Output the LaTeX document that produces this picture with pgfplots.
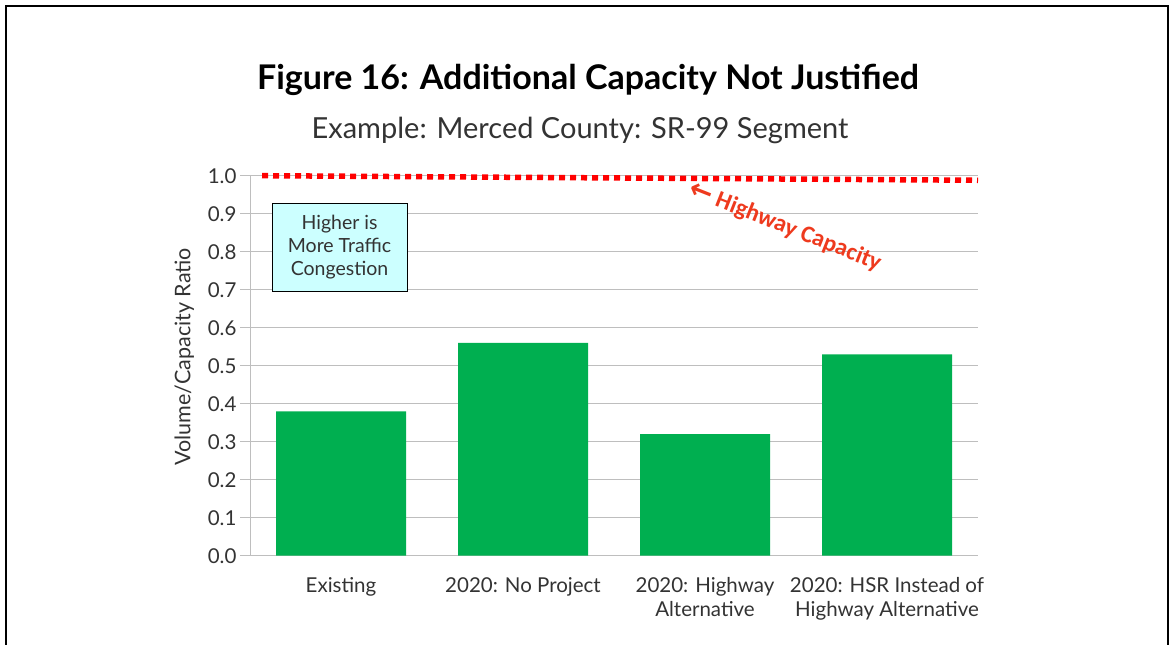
\documentclass[border=0pt]{standalone}
\usepackage{pgfplots}
\pgfplotsset{compat=1.18}
\usepackage{fontspec}
\setmainfont{Lato}
\newfontfamily\calib{Carlito}
\newfontfamily\dejavu{DejaVu Sans}
\definecolor{bargreen}{HTML}{00AF50}
\definecolor{boxcyan}{HTML}{CCFFFF}
\definecolor{capred}{HTML}{EE3A1E}
\definecolor{gridgray}{HTML}{BEBEBE}
\definecolor{txtgray}{HTML}{333333}
\begin{document}
\begin{tikzpicture}[x=1pt,y=1pt]
\path[use as bounding box] (0,0) rectangle (1170,645);
\draw[line width=2.2pt,black] (6,-2) -- (6,639) -- (1168,639) -- (1168,-2);
\node[font=\fontsize{34}{40}\selectfont\bfseries] at (588,565) {Figure 16: Additional Capacity Not Justified};
\node[font=\fontsize{29}{34}\selectfont, text=txtgray] at (580,515) {Example: Merced County: SR-99 Segment};
\begin{axis}[
  at={(250pt,89.3pt)}, anchor=south west,
  scale only axis, width=728pt, height=380pt,
  xmin=-0.5, xmax=3.5, ymin=0, ymax=1,
  axis x line*=bottom, axis y line*=left,
  axis line style={gridgray, line width=1pt},
  every outer x axis line/.append style={-},
  every outer y axis line/.append style={-},
  xtick={0,1,2,3},
  xticklabels={Existing, 2020: No Project, {2020: Highway\\Alternative}, {2020: HSR Instead of\\Highway Alternative}},
  xticklabel style={align=center, font=\fontsize{20.5}{24}\selectfont, text=txtgray},
  x tick label style={yshift=-8pt},
  major x tick style={draw=none},
  extra x ticks={-0.5,0.5,1.5,2.5,3.5},
  extra x tick labels={},
  extra x tick style={tick style={draw=gridgray, line width=1pt}, major tick length=12pt, tickwidth=12pt},
  ytick={0,0.1,...,1.0},
  yticklabel style={/pgf/number format/fixed, /pgf/number format/precision=1, /pgf/number format/fixed zerofill, font=\fontsize{20.5}{24}\selectfont, text=txtgray},
  /pgf/number format/assume math mode=true,
  ymajorgrids, grid style={gridgray, line width=1pt},
  ytick style={draw=gridgray, line width=1pt},
  major tick length=10pt,
  tick align=outside,
  ylabel={Volume/Capacity Ratio},
  ylabel style={font=\fontsize{21.5}{24}\selectfont, text=txtgray, yshift=7pt, xshift=9pt},
  clip=false,
]
\addplot[ybar, bar width=130pt, fill=bargreen, draw=none] coordinates {(0,0.38) (1,0.56) (2,0.32) (3,0.53)};
\addplot[red, line width=5.5pt, dash pattern=on 6pt off 5pt] coordinates {(-0.434,1.0) (3.5,0.988)};
\node[font=\calib\fontsize{24}{28}\selectfont\bfseries, text=capred, rotate=-21.5] at (axis cs:2.44,0.865) {{\dejavu\bfseries\fontsize{28}{30}\selectfont ←}\hspace{5pt}Highway Capacity};
\node[draw=black, line width=1pt, fill=boxcyan, align=center, minimum width=135pt, minimum height=88pt, inner sep=2pt, font=\fontsize{19.5}{23}\selectfont, text=txtgray] at (axis cs:-0.008,0.812) {Higher is\\More Traffic\\Congestion};
\end{axis}
\end{tikzpicture}
\end{document}
